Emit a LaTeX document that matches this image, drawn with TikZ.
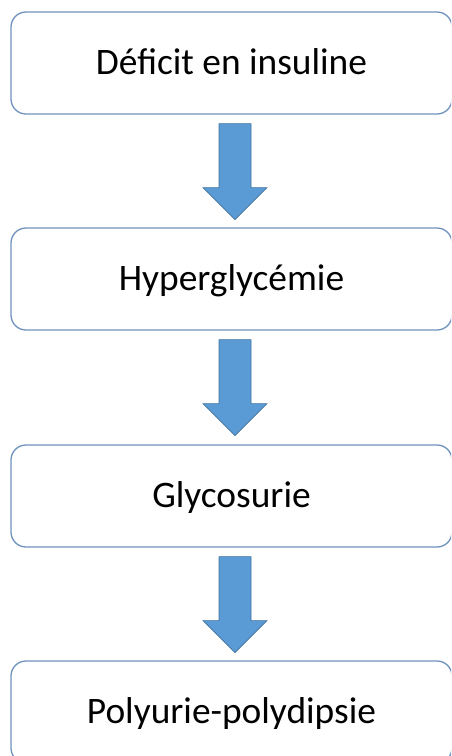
\documentclass[tikz,border=0pt]{standalone}
\usepackage{fontspec}
\setmainfont{Carlito}
\usetikzlibrary{calc}
\definecolor{boxline}{RGB}{112,146,190}
\definecolor{arrfill}{RGB}{91,155,213}
\definecolor{arrline}{RGB}{65,113,156}
\begin{document}
\begin{tikzpicture}[x=1pt,y=-1pt,
  stepbox/.style={draw=boxline,line width=1.3pt,rounded corners=15pt,fill=white,
    minimum width=441pt,minimum height=102pt,inner sep=0pt,
    text height=28pt,text depth=6pt,
    font=\fontsize{37.4}{42}\selectfont,text=black},
  bigarrow/.style={fill=arrfill,draw=arrline,line width=0.6pt,line join=miter}]
\useasboundingbox (0,0) rectangle (451,756);
\clip (0,0) rectangle (451,756);
\node[stepbox] (b1) at (231.5,63) {Déficit en insuline};
\node[stepbox] (b2) at (231.5,279) {Hyperglycémie};
\node[stepbox] (b3) at (231.5,496) {Glycosurie};
\node[stepbox] (b4) at (231.5,712) {Polyurie-polydipsie};
\foreach \a/\b in {b1/b2,b2/b3,b3/b4}{
  \draw[bigarrow] ($(\a.south)+(3.5,9)$) ++(-16,0) -- ++(32,0) -- ++(0,64) -- ++(16,0)
    -- ++(-32,32) -- ++(-32,-32) -- ++(16,0) -- cycle;
}
\end{tikzpicture}
\end{document}
